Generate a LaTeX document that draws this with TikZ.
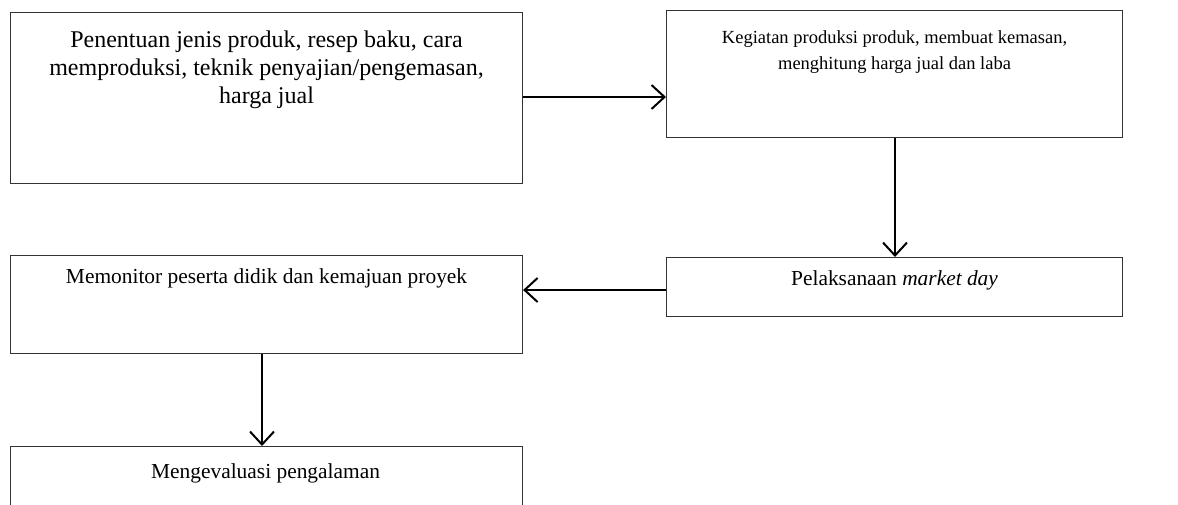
\documentclass[tikz,border=0pt]{standalone}
\usepackage{fontspec}
\setmainfont{Liberation Serif}
\usetikzlibrary{arrows.meta}
\tikzset{
  box/.style={draw=black!80, line width=1.1pt, rectangle, inner sep=0pt, anchor=north west},
  bigtxt/.style={inner sep=0pt, align=center, anchor=north, font=\fontsize{24}{28}\selectfont},
  midtxt/.style={inner sep=0pt, align=center, anchor=north, font=\fontsize{18.5}{26}\selectfont},
  txt/.style={inner sep=0pt, align=center, anchor=north, font=\fontsize{21.4}{26}\selectfont},
  flow/.style={line width=2pt, -{Straight Barb[length=13pt,width=24pt,line width=2pt]}}
}
\begin{document}
\begin{tikzpicture}[x=1pt,y=-1pt]
\useasboundingbox (0,0) rectangle (1178,504);
\clip (0,0) rectangle (1178,504);
\node[box, minimum width=512pt, minimum height=171pt] (b1) at (10,12) {};
\node[box, minimum width=456pt, minimum height=127pt] (b2) at (666,10) {};
\node[box, minimum width=456pt, minimum height=59pt] (b3) at (666,257) {};
\node[box, minimum width=512pt, minimum height=98pt] (b4) at (10,255) {};
\node[box, minimum width=512pt, minimum height=80pt] (b5) at (10,446) {};
\node[bigtxt] (t1) at ([yshift=-19pt]b1.north) {Penentuan jenis produk, resep baku, cara\\memproduksi, teknik penyajian/pengemasan,\\harga jual};
\node[midtxt] (t2) at ([yshift=-20pt]b2.north) {Kegiatan produksi produk, membuat kemasan,\\menghitung harga jual dan laba};
\node[txt] (t3) at ([yshift=-13.5pt]b3.north) {Pelaksanaan \textit{market day}};
\node[txt] (t4) at ([yshift=-13.5pt]b4.north) {Memonitor peserta didik dan kemajuan proyek};
\node[txt] (t5) at ([yshift=-17pt,xshift=-1pt]b5.north) {Mengevaluasi pengalaman};
\draw[flow] (b1.east |- 0,97) -- (b2.west |- 0,97);
\draw[flow] (b2.south -| 895,0) -- (b3.north -| 895,0);
\draw[flow] (b3.west |- 0,290) -- (b4.east |- 0,290);
\draw[flow] (b4.south -| 262,0) -- (b5.north -| 262,0);
\end{tikzpicture}
\end{document}
